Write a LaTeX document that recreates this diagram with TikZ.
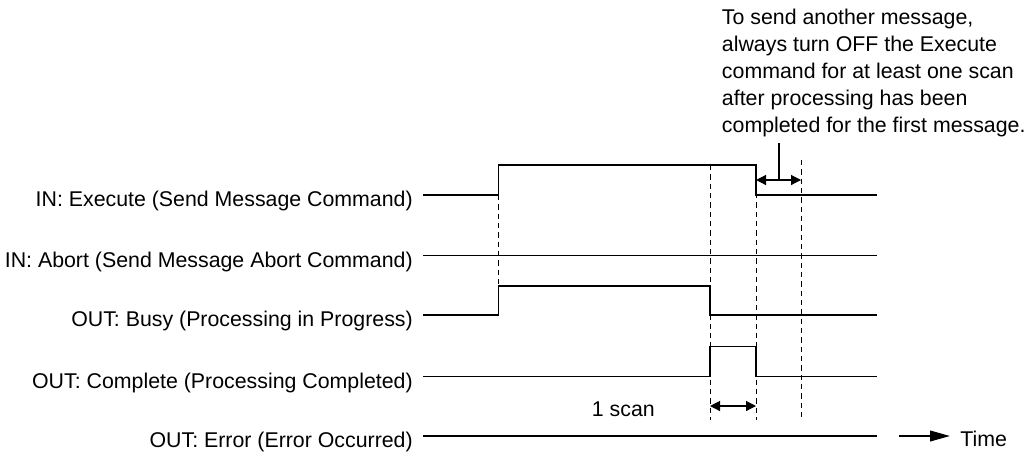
\documentclass[tikz,border=0pt]{standalone}
\usepackage{fontspec}
\setmainfont{Liberation Sans}
\usetikzlibrary{arrows.meta}
\begin{document}
\begin{tikzpicture}[x=0.75pt,y=-0.75pt,
  sig/.style={line width=0.9pt, line join=miter},
  guide/.style={line width=0.7pt, dash pattern=on 4pt off 3pt},
  dim/.style={line width=0.9pt, {Triangle[length=7.5pt,width=7.5pt]}-{Triangle[length=7.5pt,width=7.5pt]}},
  lbl/.style={inner sep=0pt, anchor=base east, font=\fontsize{16}{20.2}\selectfont},
  txt/.style={inner sep=0pt, font=\fontsize{16}{20.2}\selectfont}]
\useasboundingbox (0,0) rectangle (1025,455);
% labels
\node[lbl] (lexe) at (413,206.7) {IN: Execute (Send Message Command)};
\node[lbl] (labt) at (413,267.2) {IN: Abort (Send Message Abort Command)};
\node[lbl] (lbsy) at (413,326.7) {OUT: Busy (Processing in Progress)};
\node[lbl] (lcmp) at (413,388.2) {OUT: Complete (Processing Completed)};
\node[lbl] (lerr) at (413,447.7) {OUT: Error (Error Occurred)};
% guides
\coordinate (g1t) at (498.5,195); \coordinate (g1b) at (498.5,286);
\coordinate (g2t) at (710,165); \coordinate (g2b) at (710,420);
\coordinate (g3t) at (756,165); \coordinate (g3b) at (756,420);
\coordinate (g4t) at (801,160); \coordinate (g4b) at (801,420);
\draw[guide] (g1t) -- (g1b);
\draw[guide] (g2t) -- (g2b);
\draw[guide] (g3t) -- (g3b);
\draw[guide] (g4t) -- (g4b);
% signals
\draw[sig] (423,195) -- (498.5,195) -- (498.5,165) -- (756,165) -- (756,195) -- (877,195);
\draw[sig] (423,255.5) -- (877,255.5);
\draw[sig] (423,315) -- (498.5,315) -- (498.5,286) -- (710,286) -- (710,315) -- (877,315);
\draw[sig] (423,376.5) -- (710,376.5) -- (710,346.5) -- (756,346.5) -- (756,376.5) -- (877,376.5);
\draw[sig] (423,436) -- (877,436);
% annotation
\node[txt, anchor=base west, align=left] (note) at (721.7,132.7)
  {To send another message,\\always turn OFF the Execute\\command for at least one scan\\after processing has been\\completed for the first message.};
\coordinate (a1) at (756,180); \coordinate (a2) at (801,180);
\coordinate (pt) at (779,143); \coordinate (pb) at (779,180);
\draw[dim] (a1) -- (a2);
\draw[line width=0.9pt] (pt) -- (pb);
% 1 scan
\coordinate (s1) at (710,406); \coordinate (s2) at (756,406);
\draw[dim] (s1) -- (s2);
\node[txt, anchor=base west] (scan) at (591.7,416.7) {1 scan};
% time
\coordinate (t1) at (899,436); \coordinate (t2) at (950,436);
\draw[line width=1.4pt, -{Triangle[length=15pt,width=8pt]}] (t1) -- (t2);
\node[txt, anchor=base west] (time) at (960,446.7) {Time};
\end{tikzpicture}
\end{document}
